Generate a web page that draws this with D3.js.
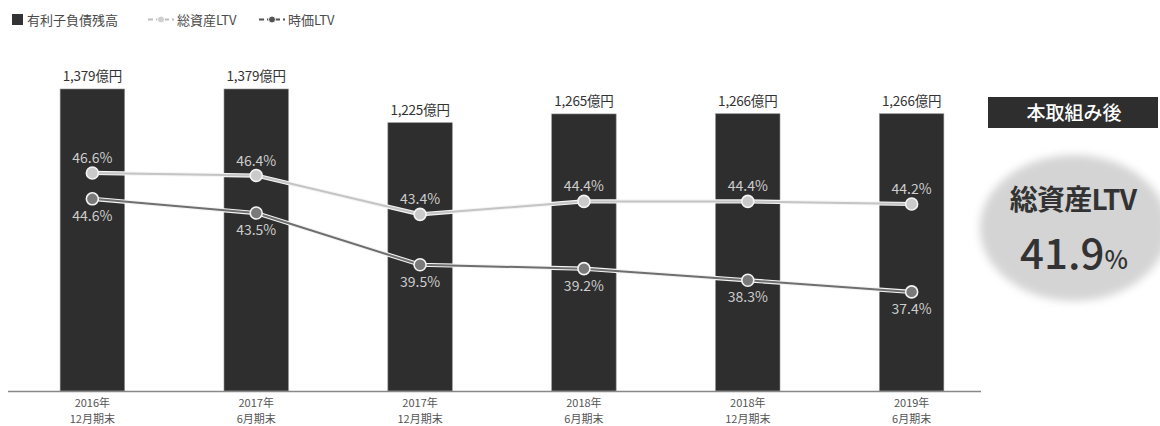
<!DOCTYPE html>
<html><head><meta charset="utf-8">
<script src="https://cdn.jsdelivr.net/npm/d3@7"></script>
<style>body{margin:0;background:#fff}svg{display:block;font-family:"Noto Sans CJK JP","Noto Sans",sans-serif}</style>
</head><body><svg id="c" width="1160" height="426"></svg>
<script>
const categories = ["2016年\n12月期末","2017年\n6月期末","2017年\n12月期末","2018年\n6月期末","2018年\n12月期末","2019年\n6月期末"];
const debt = [1379,1379,1225,1265,1266,1266];
const totalLTV = [46.6,46.4,43.4,44.4,44.4,44.2];
const marketLTV = [44.6,43.5,39.5,39.2,38.3,37.4];
const legendLabels = ["有利子負債残高","総資産LTV","時価LTV"];
const afterLabel = "本取組み後";
const afterName = "総資産LTV";
const afterValue = "41.9";

const svg = d3.select("#c");
const x = d3.scaleBand().domain(d3.range(categories.length)).range([11, 993]).paddingInner(0.607).paddingOuter(0.3);
const yBar = d3.scaleLinear().domain([0, 1379]).range([391, 89]);
const yL = d3.scaleLinear().domain([30, 50]).range([387.6, 129]);
const cx = i => x(i) + x.bandwidth()/2;

// bars
svg.append("g").selectAll("rect").data(debt).join("rect")
  .attr("x",(d,i)=>x(i)).attr("width",x.bandwidth())
  .attr("y",d=>yBar(d)).attr("height",d=>yBar(0)-yBar(d))
  .attr("fill","#2e2e2e").attr("stroke","#8a8a8a").attr("stroke-width",0.6);
svg.append("g").selectAll("text").data(debt).join("text")
  .attr("x",(d,i)=>cx(i)).attr("y",d=>yBar(d)-8)
  .attr("text-anchor","middle").attr("font-size",13.5).attr("fill","#333")
  .attr("letter-spacing",-0.2)
  .text(d=>d3.format(",")(d)+"億円");

// axis
svg.append("line").attr("x1",8).attr("x2",981).attr("y1",391.5).attr("y2",391.5)
  .attr("stroke","#888").attr("stroke-width",1.5);
const xg = svg.append("g").attr("font-size",11).attr("fill","#555").attr("text-anchor","middle");
categories.forEach((c,i)=>{
  c.split("\n").forEach((p,k)=>{
    xg.append("text").attr("x",cx(i)).attr("y",407+k*15.5).text(p);
  });
});

// lines
const line = d3.line().x((d,i)=>cx(i)).y(d=>yL(d));
function series(data, color, dotFill, above){
  const g = svg.append("g");
  g.append("path").attr("d",line(data)).attr("fill","none").attr("stroke","#f4f4f4").attr("stroke-width",4.2);
  g.append("path").attr("d",line(data)).attr("fill","none").attr("stroke",color).attr("stroke-width",2);
  g.selectAll("circle").data(data).join("circle")
    .attr("cx",(d,i)=>cx(i)).attr("cy",d=>yL(d)).attr("r",6)
    .attr("fill",dotFill).attr("stroke","#f4f4f4").attr("stroke-width",1.6);
  g.selectAll("text").data(data).join("text")
    .attr("x",(d,i)=>cx(i)).attr("y",d=>yL(d)+(above?-10:22))
    .attr("text-anchor","middle").attr("font-size",14).attr("fill","#cccccc")
    .text(d=>d.toFixed(1)+"%");
}
series(totalLTV,"#c4c4c4","#cacaca",true);
series(marketLTV,"#6e6e6e","#7a7a7a",false);

// legend
const lg = svg.append("g").attr("font-size",13).attr("fill","#4a4a4a");
lg.append("rect").attr("x",12).attr("y",14).attr("width",11).attr("height",11).attr("fill","#333");
lg.append("text").attr("x",27).attr("y",24.5).text(legendLabels[0]);
function lgLine(x0,col,fill,label){
  lg.append("line").attr("x1",x0).attr("x2",x0+26).attr("y1",19.5).attr("y2",19.5)
    .attr("stroke",col).attr("stroke-width",2).attr("stroke-dasharray","5,3");
  lg.append("circle").attr("cx",x0+13).attr("cy",19.5).attr("r",3.5).attr("fill",fill).attr("stroke","#fff").attr("stroke-width",1);
  lg.append("text").attr("x",x0+29).attr("y",24.5).text(label);
}
lgLine(148,"#bdbdbd","#cfcfcf",legendLabels[1]);
lgLine(259,"#555","#555",legendLabels[2]);

// right panel
const rp = svg.append("g");
rp.append("rect").attr("x",988).attr("y",97).attr("width",170).attr("height",31).attr("fill","#2e2e2e");
rp.append("text").attr("x",1074).attr("y",120).attr("text-anchor","middle").attr("fill","#fff")
  .attr("font-size",19).attr("font-weight",500).text(afterLabel);
const defs = svg.append("defs");
defs.append("filter").attr("id","bl").attr("x","-20%").attr("y","-20%").attr("width","140%").attr("height","140%")
  .append("feGaussianBlur").attr("stdDeviation",4);
rp.append("ellipse").attr("cx",1074).attr("cy",228).attr("rx",94).attr("ry",73).attr("fill","#d4d4d4").attr("filter","url(#bl)");
rp.append("text").attr("x",1073).attr("y",210).attr("text-anchor","middle").attr("fill","#333")
  .attr("font-size",28).attr("font-weight",700).attr("letter-spacing",-0.8).text(afterName);
const vt = rp.append("text").attr("x",1074).attr("y",269).attr("text-anchor","middle").attr("fill","#333").attr("font-weight",500);
vt.append("tspan").attr("font-size",42).text(afterValue);
vt.append("tspan").attr("font-size",25).text("%");
</script></body></html>
